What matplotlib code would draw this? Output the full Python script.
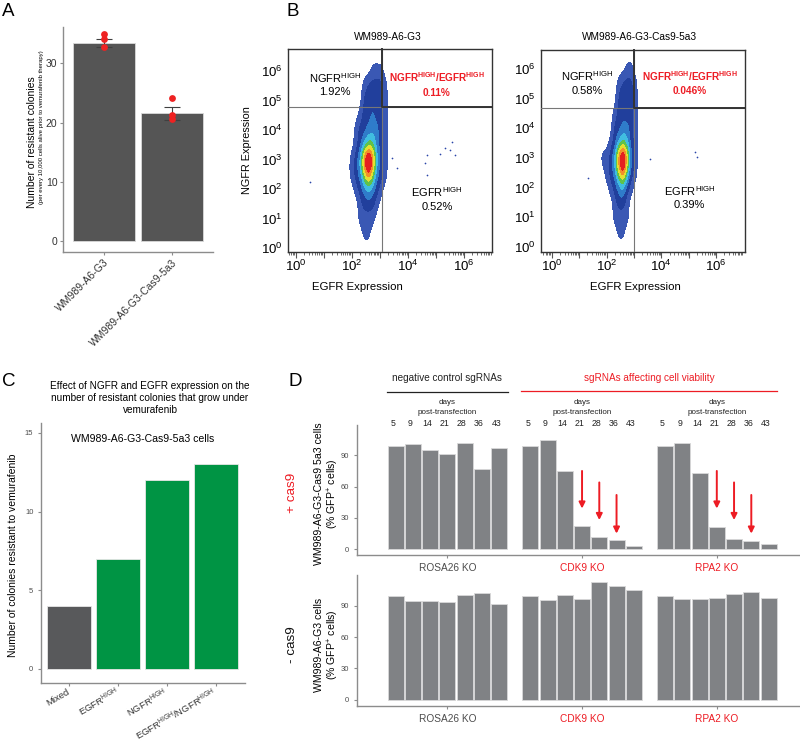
import numpy as np
import matplotlib
matplotlib.use('Agg')
import matplotlib.pyplot as plt
import matplotlib.transforms as mtransforms
from matplotlib.colors import ListedColormap, BoundaryNorm

plt.rcParams['font.family'] = ['Liberation Sans', 'DejaVu Sans']
plt.rcParams['mathtext.fontset'] = 'custom'
plt.rcParams['mathtext.rm'] = 'Liberation Sans'
plt.rcParams['mathtext.it'] = 'Liberation Sans:italic'
plt.rcParams['mathtext.bf'] = 'Liberation Sans:bold'

RED = '#ed1c24'
AXC = '#8c8c8c'

# ---- panel A data
a_labels = ['WM989-A6-G3', 'WM989-A6-G3-Cas9-5a3']
a_means = [33.4, 21.6]
a_sem = [0.6, 1.1]
a_points = [[34.9, 34.0, 32.7], [24.2, 21.3, 20.6]]

# ---- panel B data (log10 units), density levels
egfr_cols = [1.70, 1.85, 2.00, 2.15, 2.30, 2.45, 2.60, 2.75, 2.90, 3.05, 3.20, 3.35, 3.50]
ngfr_rows = [6.5, 6.0, 5.5, 5.0, 4.5, 4.0, 3.5, 3.0, 2.5, 2.0, 1.5, 1.0, 0.5, 0.0]
density_g3 = [
    [0, 0, 0, 0, 0, 0, 0, 0, 0, 0, 0, 0, 0],
    [0, 0, 0, 0, 0, 0, 0, 1, 1, 1, 0, 0, 0],
    [0, 0, 0, 0, 0, 1, 2, 2, 2, 2, 1, 0, 0],
    [0, 0, 0, 0, 0, 2, 2, 2, 2, 2, 1, 0, 0],
    [0, 0, 0, 0, 1, 2, 2, 3, 2, 2, 1, 0, 0],
    [0, 0, 0, 1, 2, 2, 3, 3, 3, 2, 1, 0, 0],
    [0, 0, 0, 1, 2, 4, 5, 5, 3, 2, 1, 0, 0],
    [0, 0, 1, 2, 4, 8, 11, 8, 4, 2, 1, 0, 0],
    [0, 0, 1, 2, 3, 6, 8, 6, 3, 2, 1, 0, 0],
    [0, 0, 0, 1, 2, 3, 4, 3, 2, 1, 0, 0, 0],
    [0, 0, 0, 0, 1, 2, 2, 2, 1, 0, 0, 0, 0],
    [0, 0, 0, 0, 1, 1, 1, 1, 0, 0, 0, 0, 0],
    [0, 0, 0, 0, 0, 1, 1, 0, 0, 0, 0, 0, 0],
    [0, 0, 0, 0, 0, 0, 0, 0, 0, 0, 0, 0, 0],
]
density_cas9 = [
    [0, 0, 0, 0, 0, 0, 0, 0, 0, 0, 0, 0, 0],
    [0, 0, 0, 0, 0, 0, 0, 1, 1, 0, 0, 0, 0],
    [0, 0, 0, 0, 0, 1, 2, 2, 2, 1, 0, 0, 0],
    [0, 0, 0, 0, 0, 2, 2, 2, 2, 1, 0, 0, 0],
    [0, 0, 0, 0, 1, 2, 2, 2, 2, 1, 0, 0, 0],
    [0, 0, 0, 0, 2, 2, 3, 3, 2, 1, 0, 0, 0],
    [0, 0, 0, 1, 2, 4, 5, 4, 2, 1, 0, 0, 0],
    [0, 1, 1, 2, 4, 8, 11, 7, 3, 1, 0, 0, 0],
    [0, 0, 1, 2, 3, 6, 8, 5, 2, 1, 0, 0, 0],
    [0, 0, 0, 1, 2, 3, 4, 2, 1, 0, 0, 0, 0],
    [0, 0, 0, 0, 1, 2, 2, 1, 0, 0, 0, 0, 0],
    [0, 0, 0, 0, 1, 1, 1, 1, 0, 0, 0, 0, 0],
    [0, 0, 0, 0, 0, 1, 1, 0, 0, 0, 0, 0, 0],
    [0, 0, 0, 0, 0, 0, 0, 0, 0, 0, 0, 0, 0],
]
outlier_g3_x = [0.51, 4.62, 4.68, 4.68, 5.16, 5.33, 5.51, 5.57, 5.69, 3.45, 3.60]
outlier_g3_y = [2.25, 2.87, 2.47, 3.15, 3.19, 3.38, 3.32, 3.60, 3.15, 3.05, 2.70]
outlier_cas9_x = [1.34, 3.59, 5.23, 5.29]
outlier_cas9_y = [2.31, 2.95, 3.21, 3.04]
gates_g3 = (3.07, 4.77)
gates_cas9 = (3.01, 4.68)
pct_g3 = ['1.92%', '0.11%', '0.52%']
pct_cas9 = ['0.58%', '0.046%', '0.39%']

# ---- panel C data
c_labels = ['Mixed', r'EGFR$^{\mathrm{HIGH}}$', r'NGFR$^{\mathrm{HIGH}}$',
            r'EGFR$^{\mathrm{HIGH}}$/NGFR$^{\mathrm{HIGH}}$']
c_values = [4, 7, 12, 13]
c_colors = ['#58595b', '#009444', '#009444', '#009444']

# ---- panel D data
d_days = [5, 9, 14, 21, 28, 36, 43]
d_genes = ['ROSA26 KO', 'CDK9 KO', 'RPA2 KO']
d_gene_colors = ['#4d4d4d', RED, RED]
rosa_plus = [99.2, 100.5, 95.1, 91.3, 101.5, 76.9, 97.3]
cdk9_plus = [99.0, 104.7, 75.3, 22.6, 11.5, 8.9, 3.5]
rpa2_plus = [99.0, 102.1, 72.8, 21.1, 9.6, 8.3, 5.1]
rosa_minus = [99.2, 95.1, 95.1, 94.1, 100.2, 102.4, 92.2]
cdk9_minus = [99.2, 95.7, 100.8, 97.0, 112.7, 109.5, 105.3]
rpa2_minus = [99.2, 97.0, 96.3, 98.0, 101.8, 103.1, 97.3]
arrow_days = [21, 28, 36]
arrow_top = [75, 64, 52]
arrow_tip = [39, 28, 15]

W, H = 800, 743
fig = plt.figure(figsize=(W / 100, H / 100), dpi=100)


def box(l, t, r, b):
    return fig.add_axes([l / W, 1 - b / H, (r - l) / W, (b - t) / H])


def ftext(x, y, s, **kw):
    fig.text(x / W, 1 - y / H, s, **kw)


def classic(ax):
    for s in ['top', 'right']:
        ax.spines[s].set_visible(False)
    for s in ['left', 'bottom']:
        ax.spines[s].set_color(AXC)
        ax.spines[s].set_linewidth(1.0)
    ax.tick_params(color=AXC, length=2.5, width=0.8, pad=1.5)


for x, y, s in [(2, 3, 'A'), (287, 3, 'B'), (2, 373, 'C'), (289, 373, 'D')]:
    ftext(x, y, s, fontsize=13.5, va='top', ha='left')

# ================= A
ax = box(63, 27, 213, 252)
xa = np.arange(len(a_labels))
ax.bar(xa, a_means, width=0.9, color='#555555', edgecolor='#d9d9d9', lw=0.6, zorder=1)
ax.errorbar(xa, a_means, yerr=a_sem, fmt='none', ecolor='#404040', elinewidth=0.8,
            capsize=5.5, capthick=0.8, zorder=2)
for i, pts in enumerate(a_points):
    ax.scatter([xa[i]] * len(pts), pts, s=24, color='#ee2222', lw=0, zorder=3)
ax.set_xlim(-0.6, 1.6)
ax.set_ylim(-1.8, 36.1)
ax.set_yticks([0, 10, 20, 30])
ax.set_xticks(xa)
classic(ax)
ax.set_xticklabels(a_labels, rotation=45, ha='right', rotation_mode='anchor', fontsize=7.5,
                   color='#333333')
ax.tick_params(axis='y', labelsize=7.5, labelcolor='#333333')
ftext(32, 208, 'Number of resistant colonies', rotation=90, ha='center', va='bottom', fontsize=7.5)
ftext(41.5, 204, '(per every 10,000 cells alive prior to vemurafenib therapy)', rotation=90,
      ha='center', va='bottom', fontsize=4.3)

# ================= B
flow_levels = [0.5, 1.5, 2.5, 3.5, 4.5, 5.5, 6.5, 7.5, 14]
flow_colors = ['#3a58b4', '#213f9c', '#2f7cca', '#40bde0', '#5fc24c', '#e4e030', '#f2902a', '#e52020']
flow_cmap = ListedColormap(flow_colors)
flow_cmap.set_under((1, 1, 1, 0))
flow_norm = BoundaryNorm(flow_levels, flow_cmap.N)


def flow(l, t, r, b, xlim, ylim, grid, gates, ox, oy, pct, title, title_x, xlabel_x, ylabel):
    ax = box(l, t, r, b)
    z = np.array(grid, dtype=float)[::-1]
    dx = egfr_cols[1] - egfr_cols[0]
    dy = ngfr_rows[0] - ngfr_rows[1]
    ext = [egfr_cols[0] - dx / 2, egfr_cols[-1] + dx / 2,
           ngfr_rows[-1] - dy / 2, ngfr_rows[0] + dy / 2]
    ax.imshow(z, extent=ext, origin='lower', aspect='auto', cmap=flow_cmap, norm=flow_norm,
              interpolation='bicubic', interpolation_stage='data', zorder=1)
    ax.scatter(ox, oy, s=1.5, color='#2a45a8', lw=0, zorder=2)
    vx, hy = gates
    ax.axvline(vx, color='#777777', lw=0.8, zorder=3)
    ax.axhline(hy, color='#777777', lw=0.8, zorder=3)
    ax.plot([vx, vx, xlim[1]], [ylim[1], hy, hy], color='#333333', lw=1.4, zorder=4,
            clip_on=False)
    ax.set_xlim(xlim)
    ax.set_ylim(ylim)
    for s in ax.spines.values():
        s.set_color('#333333')
        s.set_linewidth(1.0)
    ax.set_xticks(range(0, 7))
    ax.set_xticklabels([r'$10^{%d}$' % k if k % 2 == 0 else '' for k in range(7)])
    minor = [np.log10(m) + k for k in range(-1, 7) for m in range(2, 10)]
    ax.set_xticks([v for v in minor if xlim[0] < v < xlim[1]], minor=True)
    ax.set_yticks(range(0, 7))
    ax.set_yticklabels([r'$10^{%d}$' % k for k in range(7)])
    ax.tick_params(axis='x', which='major', length=4, width=0.8, color='#555555', pad=1,
                   labelsize=9.5)
    ax.tick_params(axis='x', which='minor', length=2.2, width=0.6, color='#555555')
    ax.tick_params(axis='y', length=0, pad=4, labelsize=9.5)
    qx_left = (xlim[0] + vx) / 2
    qx_right = (vx + xlim[1]) / 2
    qy_top = 5.55
    ax.text(qx_left, qy_top, 'NGFR$^{\\mathrm{HIGH}}$\n' + pct[0], ha='center', va='center',
            fontsize=8, linespacing=1.3)
    ax.text(qx_right, qy_top, 'NGFR$^{\\mathbf{HIGH}}$/EGFR$^{\\mathbf{HIGH}}$\n' + pct[1],
            ha='center', va='center', fontsize=7.2, color=RED, fontweight='bold', linespacing=1.45)
    ax.text(qx_right, 1.67, 'EGFR$^{\\mathrm{HIGH}}$\n' + pct[2], ha='center', va='center',
            fontsize=8, linespacing=1.3)
    ftext(title_x, 37, title, ha='center', va='center', fontsize=7.3)
    ftext(xlabel_x, 287, 'EGFR Expression', ha='center', va='center', fontsize=8.2)
    if ylabel:
        ftext(247, 150, 'NGFR Expression', ha='center', va='center', rotation=90, fontsize=7.8)


flow(288, 49, 492, 252, (-0.27, 7.0), (-0.14, 6.75), density_g3, gates_g3,
     outlier_g3_x, outlier_g3_y, pct_g3, 'WM989-A6-G3', 388, 357, True)
flow(541, 50, 745, 252, (-0.39, 7.05), (-0.18, 6.65), density_cas9, gates_cas9,
     outlier_cas9_x, outlier_cas9_y, pct_cas9, 'WM989-A6-G3-Cas9-5a3', 640, 635, False)

# ================= C
ax = box(41, 423, 245, 683)
xc = np.arange(len(c_values))
ax.bar(xc, c_values, width=0.9, color=c_colors, edgecolor='#e6e6e6', lw=0.6)
ax.set_xlim(-0.57, 3.6)
ax.set_ylim(-0.91, 15.63)
ax.set_yticks([0, 5, 10, 15])
ax.set_xticks(xc)
classic(ax)
ax.set_xticklabels(c_labels, rotation=30, ha='right', va='center', rotation_mode='anchor',
                   fontsize=6.8, color='#333333')
ax.tick_params(axis='x', pad=3.5)
ax.tick_params(axis='y', labelsize=5.5, labelcolor='#4d4d4d', pad=3)
ax.text(1.5, 14.6, 'WM989-A6-G3-Cas9-5a3 cells', ha='center', va='center', fontsize=7.6)
ftext(150, 398, 'Effect of NGFR and EGFR expression on the\nnumber of resistant colonies that grow under\nvemurafenib',
      ha='center', va='center', fontsize=7.2, linespacing=1.3)
ftext(13, 555, 'Number of colonies resistant to vemurafenib', rotation=90, ha='center',
      va='center', fontsize=7.5)

# ================= D
pitch = 0.128
offsets = (np.arange(len(d_days)) - 3) * pitch
groups = np.arange(len(d_genes))


def d_panel(t, b, ylim, series, ylabel_lines, ylabel_y):
    ax = box(357, t, 799, b)
    for g, vals in zip(groups, series):
        ax.bar(g + offsets, vals, width=0.119, color='#808285', edgecolor='#d9d9d9', lw=0.6)
    ax.set_xlim(-0.67, 2.61)
    ax.set_ylim(ylim)
    ax.set_yticks([0, 30, 60, 90])
    ax.set_xticks(groups)
    classic(ax)
    ax.set_xticklabels(d_genes, fontsize=7.3)
    for lab, c in zip(ax.get_xticklabels(), d_gene_colors):
        lab.set_color(c)
    ax.tick_params(axis='x', pad=3)
    ax.tick_params(axis='y', labelsize=5.5, labelcolor='#4d4d4d', pad=3)
    ftext(327.5, ylabel_y, ylabel_lines, rotation=90, ha='center', va='center', fontsize=7.6,
          linespacing=1.15)
    return ax


ax_top = d_panel(425, 555, (-5.5, 119), [rosa_plus, cdk9_plus, rpa2_plus],
                 'WM989-A6-G3-Cas9 5a3 cells\n(% GFP$^{+}$ cells)', 494)
ax_bot = d_panel(575, 706, (-6.1, 119.6), [rosa_minus, cdk9_minus, rpa2_minus],
                 'WM989-A6-G3 cells\n(% GFP$^{+}$ cells)', 645)

for g in groups[1:]:
    for day, y0, y1 in zip(arrow_days, arrow_top, arrow_tip):
        xpos = g + offsets[d_days.index(day)]
        ax_top.annotate('', xy=(xpos, y1), xytext=(xpos, y0),
                        arrowprops=dict(arrowstyle='-|>', color=RED, lw=1.4, mutation_scale=9,
                                        shrinkA=0, shrinkB=0))

tr = mtransforms.blended_transform_factory(ax_top.transData, fig.transFigure)
for g in groups:
    for i, day in enumerate(d_days):
        ax_top.text(g + offsets[i] - 0.02, 1 - 424 / H, str(day), transform=tr, ha='center',
                    va='center', fontsize=6.3, color='#222222')
    ax_top.text(g, 1 - 402 / H, 'days', transform=tr, ha='center', va='center', fontsize=5.8,
                color='#222222')
    ax_top.text(g, 1 - 412.5 / H, 'post-transfection', transform=tr, ha='center', va='center',
                fontsize=5.8, color='#222222')

ax_top.text(groups[0], 1 - 378 / H, 'negative control sgRNAs', transform=tr, ha='center',
            va='center', fontsize=7.2, color='#222222')
ax_top.plot([groups[0] - 0.45, groups[0] + 0.45], [1 - 391.5 / H] * 2, transform=tr,
            color='#222222', lw=0.9, clip_on=False)
ax_top.text((groups[1] + groups[2]) / 2, 1 - 378 / H, 'sgRNAs affecting cell viability',
            transform=tr, ha='center', va='center', fontsize=7.2, color=RED)
ax_top.plot([groups[1] - 0.45, groups[2] + 0.45], [1 - 391 / H] * 2, transform=tr,
            color=RED, lw=0.9, clip_on=False)

ftext(292, 493, '+ cas9', rotation=90, ha='center', va='center', fontsize=9.7, color=RED)
ftext(292, 645, '- cas9', rotation=90, ha='center', va='center', fontsize=9.7, color='#111111')

fig.savefig('out.png', dpi=100)
